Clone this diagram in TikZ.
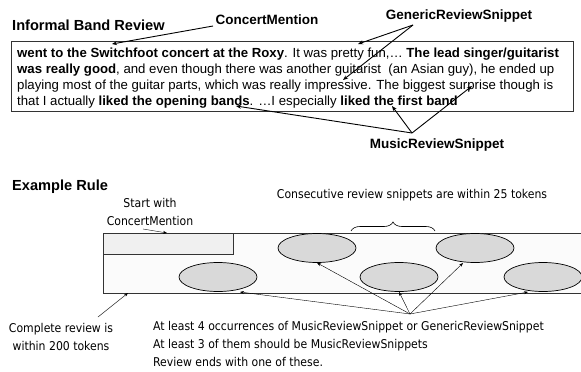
\documentclass[tikz,border=0pt]{standalone}
\usepackage{fontspec}
\setmainfont{Liberation Sans}
\newfontfamily\tahoma{DejaVu Sans Condensed}
\usetikzlibrary{arrows.meta,shapes.geometric,decorations.pathreplacing}
\begin{document}
\begin{tikzpicture}[x=1pt,y=-1pt,
  hdr/.style={font=\fontsize{14.6}{16}\selectfont\bfseries, anchor=west, inner sep=0},
  lbl/.style={font=\fontsize{13.5}{16}\selectfont\bfseries, inner sep=0},
  txt/.style={font=\fontsize{13.2}{16}\selectfont, anchor=base west, inner sep=0},
  cmt/.style={font=\tahoma\fontsize{12.1}{18}\selectfont, inner sep=0},
  ptr/.style={-{Stealth[length=5pt,width=4pt]}, line width=0.9pt},
  tinyptr/.style={-{Stealth[length=4pt,width=3pt]}, line width=0.4pt},
  snippet/.style={ellipse, draw, line width=0.7pt, fill=gray!30, minimum width=78pt, minimum height=29pt, inner sep=0}
]
\useasboundingbox (0,0) rectangle (581,372);
\clip (0,0) rectangle (581,372);

% ---------- top part ----------
\node[hdr] (title) at (12,25) {Informal Band Review};
\node[lbl] (cm) at (267,20) {ConcertMention};
\node[lbl] (grs) at (459,16) {GenericReviewSnippet};
\node[lbl] (mrs) at (437,145) {MusicReviewSnippet};

\draw[line width=0.9pt, draw=black!80] (11,41) rectangle (573,111);
\node[txt] (l1) at (17,57) {\textbf{went to the Switchfoot concert at the Roxy}. It was pretty fun,… \textbf{The lead singer/guitarist}};
\node[txt] (l2) at (17,73) {\textbf{was really good}, and even though there was another guitarist\ \ (an Asian guy), he ended up};
\node[txt] (l3) at (17,89) {playing most of the guitar parts, which was really impressive. The biggest surprise though is};
\node[txt] (l4) at (17,105) {that I actually \textbf{liked the opening bands}. …I especially \textbf{liked the first band}};

\coordinate (cmS) at (213,26);
\coordinate (cmT) at (112,44);
\coordinate (grsS) at (413,25);
\coordinate (grT1) at (358,44);
\coordinate (grT2) at (343,80);
\coordinate (mrsS) at (412,133);
\coordinate (mrT1) at (472,86);
\coordinate (mrT2) at (392,106);
\coordinate (mrT3) at (236,106);
\draw[ptr] (cmS) -- (cmT);
\draw[ptr] (grsS) -- (grT1);
\draw[ptr] (grsS) -- (grT2);
\draw[ptr] (mrsS) -- (mrT1);
\draw[ptr] (mrsS) -- (mrT2);
\draw[ptr] (mrsS) -- (mrT3);

% ---------- bottom part ----------
\node[hdr] (rule) at (12,187) {Example Rule};
\node[cmt, align=center] (start) at (150,212) {Start with\\ConcertMention};
\node[cmt] (consec) at (412,195) {Consecutive review snippets are within 25 tokens};
\draw[line width=0.6pt, decorate, decoration={brace, amplitude=9pt}] (351,231) -- (435,231);

\fill[gray!3] (103,233) rectangle (590,293);
\draw[line width=0.9pt, draw=black!80] (590,233) -- (103,233) -- (103,293) -- (590,293);
\node[draw=black!80, line width=0.9pt, fill=gray!12, minimum width=130pt, minimum height=21pt, inner sep=0, anchor=north west] (cmbox) at (103,233) {};

\node[snippet] (e1) at (218,277) {};
\node[snippet] (e2) at (317,248) {};
\node[snippet] (e3) at (399,277) {};
\node[snippet] (e4) at (475,248) {};
\node[snippet] (e5) at (543,277) {};

\coordinate (hub) at (410,314);
\coordinate (t1) at (240,292);
\coordinate (t4) at (463,263);
\coordinate (t5) at (528,292);
\draw[tinyptr] (hub) -- (t1);
\draw[tinyptr] (hub) -- (e2.south);
\draw[tinyptr] (hub) -- (e3.south);
\draw[tinyptr] (hub) -- (t4);
\draw[tinyptr] (hub) -- (t5);

\coordinate (stS) at (143,229);
\coordinate (stT) at (167,233);
\draw[tinyptr] (stS) -- (stT);

\node[cmt, align=center] (complete) at (61,337) {Complete review is\\within 200 tokens};
\coordinate (cpS) at (98,317);
\coordinate (cpT) at (128,293);
\draw[tinyptr] (cpS) -- (cpT);

\node[cmt, align=left, anchor=north west] (rules) at (153,321) {At least 4 occurrences of MusicReviewSnippet or GenericReviewSnippet\\At least 3 of them should be MusicReviewSnippets\\Review ends with one of these.};
\end{tikzpicture}
\end{document}
